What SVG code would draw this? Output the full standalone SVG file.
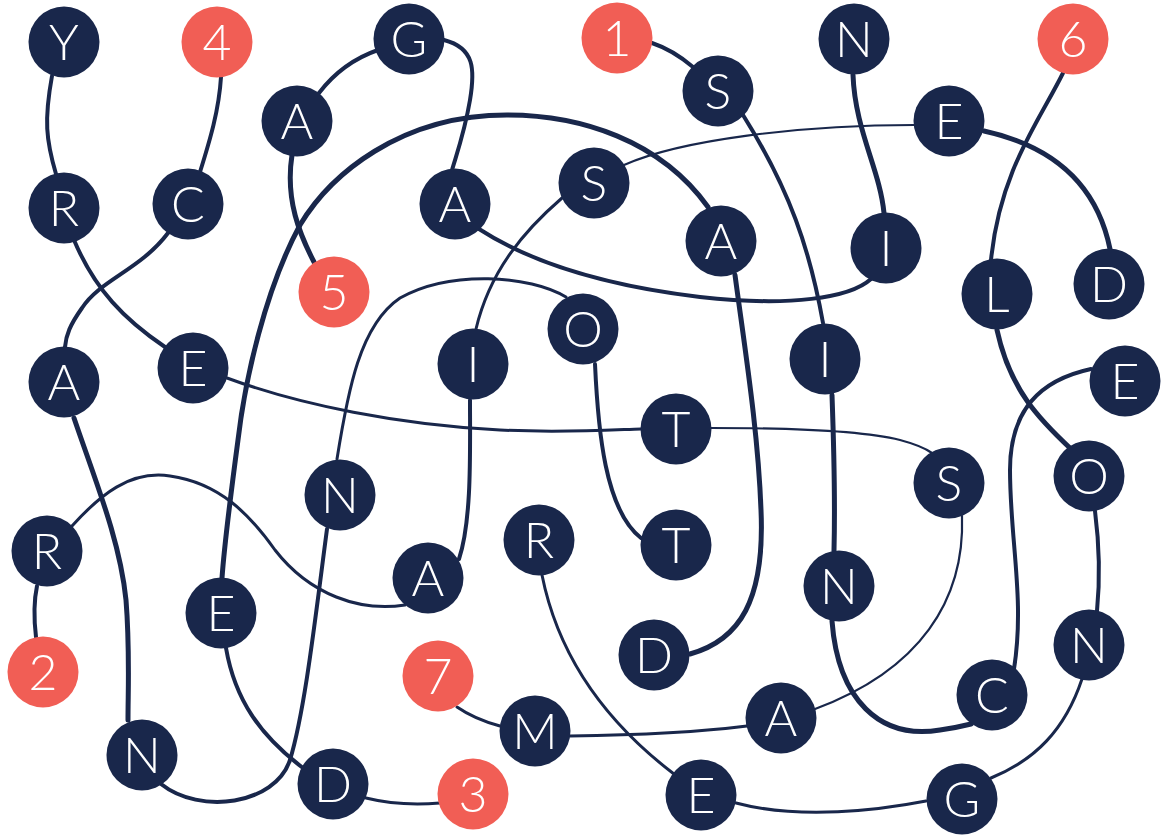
<svg xmlns="http://www.w3.org/2000/svg" width="1161" height="836" viewBox="0 0 1161 836">
<style>
.bg{fill:#ffffff}
.c path{fill:none;stroke:#19274b;stroke-linecap:round}
.w5{stroke-width:5}
.w4{stroke-width:4}
.w3{stroke-width:3}
.w2{stroke-width:2.2}
.n circle{fill:#19274b}
.r circle{fill:#f15e55}
text{font-family:Lato,"Open Sans","Liberation Sans",sans-serif;font-weight:300;font-size:50px;fill:#ffffff;text-anchor:middle}
</style>
<rect class="bg" width="1161" height="836"/>
<g id="connectors" class="c">
<path class="w4" d="M52,76 C44,120 46,140 56,174"/>
<path class="w4" d="M221,77 C219,110 210,140 200,172"/>
<path class="w4" d="M168,233 C140,270 100,280 82,308 C70,325 66,335 65,347"/>
<path class="w4" d="M74,240 C95,290 125,320 165,347"/>
<path class="w4" d="M319,93 C335,72 355,58 378,50"/>
<path class="w5" d="M292,155 C285,200 300,235 314,262"/>
<path class="w4" d="M444,40 C475,48 475,70 470,100 C465,130 458,150 452,170"/>
<path class="w5" d="M708,207 C660,140 580,115 507,115 C400,115 330,175 300,225 C265,290 245,380 238,440 C230,500 224,550 222,578"/>
<path class="w3" d="M227,378 C300,405 400,425 500,430 C560,433 610,430 641,429"/>
<path class="w2" d="M711,428 C780,428 860,430 900,440 C915,444 925,448 932,453"/>
<path class="w3" d="M562,198 C525,230 490,270 476,329"/>
<path class="w2" d="M624,165 C680,140 800,125 914,125"/>
<path class="w4" d="M479,229 C530,262 600,285 700,297 C790,307 850,298 871,279"/>
<path class="w3" d="M566,297 C530,275 450,270 400,298 C360,325 348,390 337,459"/>
<path class="w4" d="M470,400 C470,450 472,520 459,559"/>
<path class="w4" d="M652,43 C667,48 680,56 693,67"/>
<path class="w4" d="M743,115 C790,190 810,250 823,323"/>
<path class="w5" d="M853,75 C855,130 880,170 884,213"/>
<path class="w5" d="M984,131 C1070,150 1100,200 1110,249"/>
<path class="w4" d="M1063,73 C1040,120 1000,170 991,260"/>
<path class="w5" d="M735,275 C745,350 758,430 761,510 C765,600 740,640 690,654"/>
<path class="w5" d="M832,395 C834,450 835,510 834,551"/>
<path class="w5" d="M997,330 C1010,390 1040,420 1071,449"/>
<path class="w4" d="M1091,369 C1040,380 1010,410 1010,470 C1010,540 1025,600 1014,669"/>
<path class="w4" d="M595,364 C598,430 605,510 641,538"/>
<path class="w2" d="M962,516 C965,600 920,670 815,709"/>
<path class="w5" d="M832,621 C838,700 880,740 940,730 C955,728 963,726 971,724"/>
<path class="w4" d="M1095,511 C1100,550 1100,580 1097,611"/>
<path class="w3" d="M1082,679 C1065,730 1035,760 991,778"/>
<path class="w3" d="M926,801 C880,810 800,820 736,803"/>
<path class="w3" d="M542,575 C555,640 590,710 674,774"/>
<path class="w3" d="M570,736 C650,735 700,732 747,726"/>
<path class="w3" d="M457,707 C470,716 485,722 500,726"/>
<path class="w4" d="M37,586 C34,600 34,620 36,637"/>
<path class="w5" d="M74,418 C95,480 120,540 126,600 C130,650 128,690 128,720"/>
<path class="w3" d="M72,526 C100,495 130,470 170,476 C220,483 250,515 275,550 C310,595 360,612 405,605"/>
<path class="w4" d="M327,529 C315,620 305,710 290,760 C275,805 200,815 161,784"/>
<path class="w4" d="M226,648 C235,700 260,735 303,768"/>
<path class="w3" d="M366,798 C390,804 415,805 440,803"/>
</g>
<g id="n-y" class="n"><circle cx="64" cy="42" r="35.5"/><text x="64" y="60">Y</text></g>
<g id="n-4" class="r"><circle cx="217" cy="42" r="35.5"/><text x="217" y="60">4</text></g>
<g id="n-g1" class="n"><circle cx="409" cy="39" r="35.5"/><text x="409" y="57">G</text></g>
<g id="n-1" class="r"><circle cx="617" cy="38" r="35.5"/><text x="617" y="56">1</text></g>
<g id="n-n1" class="n"><circle cx="854" cy="39" r="35.5"/><text x="854" y="57">N</text></g>
<g id="n-6" class="r"><circle cx="1073" cy="39" r="35.5"/><text x="1073" y="57">6</text></g>
<g id="n-s1" class="n"><circle cx="718" cy="91" r="35.5"/><text x="718" y="109">S</text></g>
<g id="n-a1" class="n"><circle cx="297" cy="121" r="35.5"/><text x="297" y="139">A</text></g>
<g id="n-e1" class="n"><circle cx="949" cy="121" r="35.5"/><text x="949" y="139">E</text></g>
<g id="n-r1" class="n"><circle cx="64" cy="208" r="35.5"/><text x="64" y="226">R</text></g>
<g id="n-c1" class="n"><circle cx="188" cy="204" r="35.5"/><text x="188" y="222">C</text></g>
<g id="n-a2" class="n"><circle cx="455" cy="204" r="35.5"/><text x="455" y="222">A</text></g>
<g id="n-s2" class="n"><circle cx="594" cy="183" r="35.5"/><text x="594" y="201">S</text></g>
<g id="n-a3" class="n"><circle cx="721" cy="241" r="35.5"/><text x="721" y="259">A</text></g>
<g id="n-i1" class="n"><circle cx="886" cy="248" r="35.5"/><text x="886" y="266">I</text></g>
<g id="n-5" class="r"><circle cx="334" cy="292" r="35.5"/><text x="334" y="310">5</text></g>
<g id="n-l" class="n"><circle cx="997" cy="294" r="35.5"/><text x="997" y="312">L</text></g>
<g id="n-d1" class="n"><circle cx="1109" cy="284" r="35.5"/><text x="1109" y="302">D</text></g>
<g id="n-o1" class="n"><circle cx="583" cy="329" r="35.5"/><text x="583" y="347">O</text></g>
<g id="n-i2" class="n"><circle cx="473" cy="364" r="35.5"/><text x="473" y="382">I</text></g>
<g id="n-i3" class="n"><circle cx="825" cy="359" r="35.5"/><text x="825" y="377">I</text></g>
<g id="n-e2" class="n"><circle cx="1125" cy="381" r="35.5"/><text x="1125" y="399">E</text></g>
<g id="n-a4" class="n"><circle cx="64" cy="382" r="35.5"/><text x="64" y="400">A</text></g>
<g id="n-e3" class="n"><circle cx="193" cy="368" r="35.5"/><text x="193" y="386">E</text></g>
<g id="n-t1" class="n"><circle cx="676" cy="429" r="35.5"/><text x="676" y="447">T</text></g>
<g id="n-s3" class="n"><circle cx="949" cy="483" r="35.5"/><text x="949" y="501">S</text></g>
<g id="n-o2" class="n"><circle cx="1089" cy="476" r="35.5"/><text x="1089" y="494">O</text></g>
<g id="n-n2" class="n"><circle cx="340" cy="495" r="35.5"/><text x="340" y="513">N</text></g>
<g id="n-r2" class="n"><circle cx="47" cy="551" r="35.5"/><text x="47" y="569">R</text></g>
<g id="n-r3" class="n"><circle cx="539" cy="540" r="35.5"/><text x="539" y="558">R</text></g>
<g id="n-a5" class="n"><circle cx="428" cy="578" r="35.5"/><text x="428" y="596">A</text></g>
<g id="n-t2" class="n"><circle cx="676" cy="545" r="35.5"/><text x="676" y="563">T</text></g>
<g id="n-n3" class="n"><circle cx="839" cy="586" r="35.5"/><text x="839" y="604">N</text></g>
<g id="n-e4" class="n"><circle cx="221" cy="613" r="35.5"/><text x="221" y="631">E</text></g>
<g id="n-n4" class="n"><circle cx="1089" cy="645" r="35.5"/><text x="1089" y="663">N</text></g>
<g id="n-2" class="r"><circle cx="43" cy="672" r="35.5"/><text x="43" y="690">2</text></g>
<g id="n-d2" class="n"><circle cx="654" cy="655" r="35.5"/><text x="654" y="673">D</text></g>
<g id="n-7" class="r"><circle cx="438" cy="676" r="35.5"/><text x="438" y="694">7</text></g>
<g id="n-c2" class="n"><circle cx="992" cy="695" r="35.5"/><text x="992" y="713">C</text></g>
<g id="n-m" class="n"><circle cx="535" cy="731" r="35.5"/><text x="535" y="749">M</text></g>
<g id="n-a6" class="n"><circle cx="781" cy="718" r="35.5"/><text x="781" y="736">A</text></g>
<g id="n-n5" class="n"><circle cx="142" cy="755" r="35.5"/><text x="142" y="773">N</text></g>
<g id="n-d3" class="n"><circle cx="333" cy="784" r="35.5"/><text x="333" y="802">D</text></g>
<g id="n-3" class="r"><circle cx="473" cy="794" r="35.5"/><text x="473" y="812">3</text></g>
<g id="n-e5" class="n"><circle cx="701" cy="795" r="35.5"/><text x="701" y="813">E</text></g>
<g id="n-g2" class="n"><circle cx="962" cy="799" r="35.5"/><text x="962" y="817">G</text></g>
</svg>
